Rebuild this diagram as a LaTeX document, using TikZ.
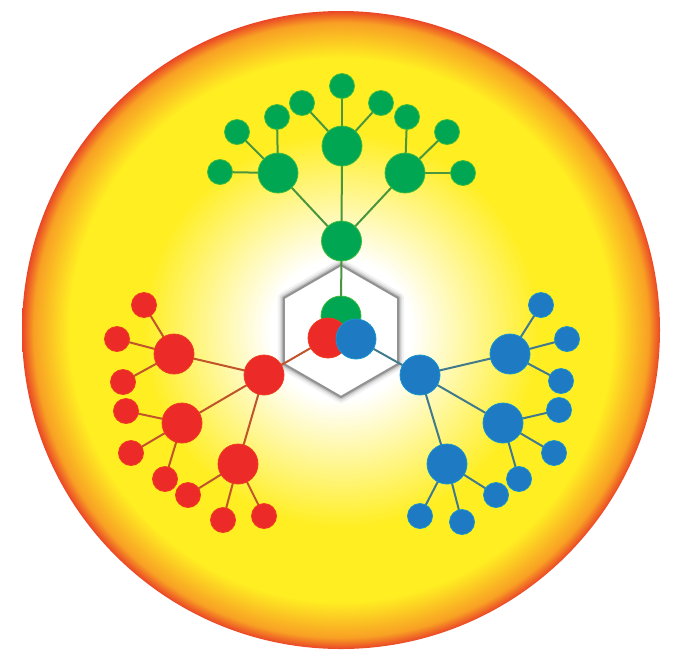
\documentclass[tikz,border=0pt]{standalone}
\usetikzlibrary{calc}
\pgfdeclarelayer{bg}
\pgfdeclarelayer{edges}
\pgfsetlayers{bg,edges,main}
\definecolor{gfill}{RGB}{0,166,81}
\definecolor{rfill}{RGB}{236,42,40}
\definecolor{bfill}{RGB}{30,122,194}
\definecolor{gline}{RGB}{72,150,62}
\definecolor{rline}{RGB}{192,84,42}
\definecolor{bline}{RGB}{64,122,140}
\definecolor{glowY}{RGB}{255,238,34}
\definecolor{edgeO}{RGB}{248,160,36}
\definecolor{rimR}{RGB}{234,70,38}
\pgfdeclareradialshading{sunglow}{\pgfpointorigin}{color(0bp)=(white); color(5.5bp)=(white); color(15.5bp)=(glowY); color(21.3bp)=(glowY); color(24.1bp)=(edgeO); color(25bp)=(rimR); color(50bp)=(rimR)}
\begin{document}
\begin{tikzpicture}[x=1pt,y=-1pt,
  gbig/.style={circle,inner sep=0pt,minimum size=40pt,fill=gfill,draw=gfill!75!yellow,line width=0.8pt},
  gleaf/.style={gbig,minimum size=25pt},
  rbig/.style={circle,inner sep=0pt,minimum size=40pt,fill=rfill,draw=rfill!80!orange,line width=0.8pt},
  rleaf/.style={rbig,minimum size=25pt},
  bbig/.style={circle,inner sep=0pt,minimum size=40pt,fill=bfill,draw=bfill!80!cyan,line width=0.8pt},
  bleaf/.style={bbig,minimum size=25pt},
  gedge/.style={draw=gline,line width=2pt},
  redge/.style={draw=rline,line width=2pt},
  bedge/.style={draw=bline,line width=2pt},
  hexpath/.style={line join=round}
]
\useasboundingbox (0,0) rectangle (682,649);
\begin{pgfonlayer}{bg}
\shade[shading=sunglow] (341,330) circle (319pt);
\coordinate (hT) at (341,265);
\coordinate (hUR) at (398.2,298);
\coordinate (hLR) at (398.2,364);
\coordinate (hB) at (341,397);
\coordinate (hLL) at (283.8,364);
\coordinate (hUL) at (283.8,298);
\draw[hexpath,black,opacity=0.05,line width=12pt] (hT)--(hUR)--(hLR)--(hB)--(hLL)--(hUL)--cycle;
\draw[hexpath,black,opacity=0.08,line width=8pt] (hT)--(hUR)--(hLR)--(hB)--(hLL)--(hUL)--cycle;
\draw[hexpath,black,opacity=0.12,line width=5pt] (hT)--(hUR)--(hLR)--(hB)--(hLL)--(hUL)--cycle;
\fill[white] (hT)--(hUR)--(hLR)--(hB)--(hLL)--(hUL)--cycle;
\draw[hexpath,gray!85,line width=2.2pt] (hT)--(hUR)--(hLR)--(hB)--(hLL)--(hUL)--cycle;
\end{pgfonlayer}

% green tree
\node[gbig] (g0) at (341,316) {};
\node[gbig] (g1) at (341.5,241) {};
\node[gbig] (g2a) at (278,173) {};
\node[gbig] (g2b) at (342,146) {};
\node[gbig] (g2c) at (405,173) {};
\node[gleaf] (gl1) at (220,172) {};
\node[gleaf] (gl2) at (237,132) {};
\node[gleaf] (gl3) at (277,117) {};
\node[gleaf] (gl4) at (302,103) {};
\node[gleaf] (gl5) at (342,86) {};
\node[gleaf] (gl6) at (381,103) {};
\node[gleaf] (gl7) at (407,117) {};
\node[gleaf] (gl8) at (447,132) {};
\node[gleaf] (gl9) at (463,173) {};

% red tree
\node[rbig] (r0) at (328,338) {};
\node[rbig] (r1) at (264,375) {};
\node[rbig] (r2a) at (174,354) {};
\node[rbig] (r2b) at (182,423) {};
\node[rbig] (r2c) at (238,464) {};
\node[rleaf] (rl1) at (144,305) {};
\node[rleaf] (rl2) at (117,339) {};
\node[rleaf] (rl3) at (123,382) {};
\node[rleaf] (rl4) at (126,411) {};
\node[rleaf] (rl5) at (131,453) {};
\node[rleaf] (rl6) at (165,479) {};
\node[rleaf] (rl7) at (188,495) {};
\node[rleaf] (rl8) at (223,520) {};
\node[rleaf] (rl9) at (264,516) {};

% blue tree
\node[bbig] (b0) at (356,339) {};
\node[bbig] (b1) at (420,375) {};
\node[bbig] (b2a) at (510,354) {};
\node[bbig] (b2b) at (503,423) {};
\node[bbig] (b2c) at (447,464) {};
\node[bleaf] (bl1) at (541,305) {};
\node[bleaf] (bl2) at (567,339) {};
\node[bleaf] (bl3) at (561,381) {};
\node[bleaf] (bl4) at (559,410) {};
\node[bleaf] (bl5) at (554,453) {};
\node[bleaf] (bl6) at (519,479) {};
\node[bleaf] (bl7) at (496,495) {};
\node[bleaf] (bl8) at (462,522) {};
\node[bleaf] (bl9) at (420,516) {};

\begin{pgfonlayer}{edges}
\draw[gedge] (g0.center)--(g1.center);
\draw[gedge] (g1.center)--(g2a.center);
\draw[gedge] (g1.center)--(g2b.center);
\draw[gedge] (g1.center)--(g2c.center);
\draw[gedge] (g2a.center)--(gl1.center);
\draw[gedge] (g2a.center)--(gl2.center);
\draw[gedge] (g2a.center)--(gl3.center);
\draw[gedge] (g2b.center)--(gl4.center);
\draw[gedge] (g2b.center)--(gl5.center);
\draw[gedge] (g2b.center)--(gl6.center);
\draw[gedge] (g2c.center)--(gl7.center);
\draw[gedge] (g2c.center)--(gl8.center);
\draw[gedge] (g2c.center)--(gl9.center);

\draw[redge] (r0.center)--(r1.center);
\draw[redge] (r1.center)--(r2a.center);
\draw[redge] (r1.center)--(r2b.center);
\draw[redge] (r1.center)--(r2c.center);
\draw[redge] (r2a.center)--(rl1.center);
\draw[redge] (r2a.center)--(rl2.center);
\draw[redge] (r2a.center)--(rl3.center);
\draw[redge] (r2b.center)--(rl4.center);
\draw[redge] (r2b.center)--(rl5.center);
\draw[redge] (r2b.center)--(rl6.center);
\draw[redge] (r2c.center)--(rl7.center);
\draw[redge] (r2c.center)--(rl8.center);
\draw[redge] (r2c.center)--(rl9.center);

\draw[bedge] (b0.center)--(b1.center);
\draw[bedge] (b1.center)--(b2a.center);
\draw[bedge] (b1.center)--(b2b.center);
\draw[bedge] (b1.center)--(b2c.center);
\draw[bedge] (b2a.center)--(bl1.center);
\draw[bedge] (b2a.center)--(bl2.center);
\draw[bedge] (b2a.center)--(bl3.center);
\draw[bedge] (b2b.center)--(bl4.center);
\draw[bedge] (b2b.center)--(bl5.center);
\draw[bedge] (b2b.center)--(bl6.center);
\draw[bedge] (b2c.center)--(bl7.center);
\draw[bedge] (b2c.center)--(bl8.center);
\draw[bedge] (b2c.center)--(bl9.center);
\end{pgfonlayer}
\end{tikzpicture}
\end{document}
